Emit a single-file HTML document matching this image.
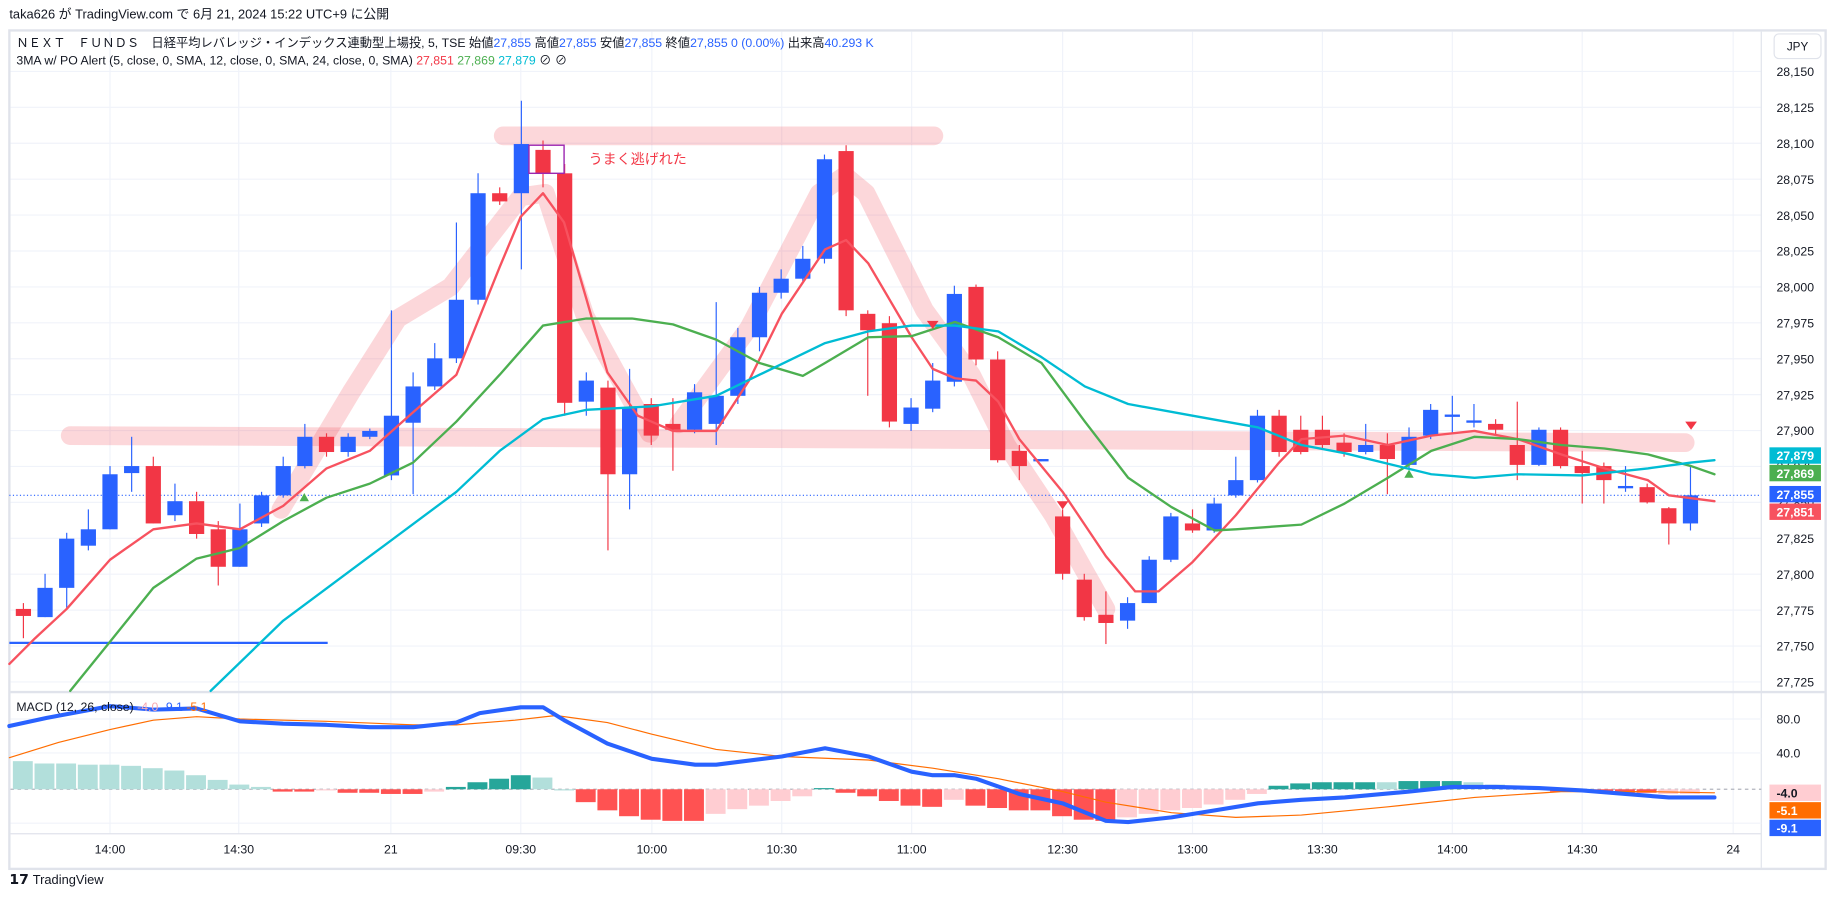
<!DOCTYPE html>
<html><head><meta charset="utf-8"><style>
html,body{margin:0;padding:0;background:#fff;width:1835px;height:897px;overflow:hidden}
svg{display:block}
text{font-family:"Liberation Sans","Noto Sans CJK JP",sans-serif}
</style></head><body>
<svg id="s" width="1835" height="897" viewBox="0 0 1568 766" preserveAspectRatio="none" xmlns="http://www.w3.org/2000/svg">
<rect width="1568" height="766" fill="#fff"/>
<text x="8" y="16" font-size="11" fill="#131722">taka626 が TradingView.com で 6月 21, 2024 15:22 UTC+9 に公開</text>
<rect x="8" y="26" width="1552" height="716" fill="#fff" stroke="#e0e3eb" stroke-width="2"/>
<g id="grid"></g>
<g id="hl"></g>
<g id="candles"></g>
<g id="ma"></g>
<g id="macd"></g>
<g id="lbl"></g>
<text x="14" y="40" font-size="10.5" fill="#131722">ＮＥＸＴ　ＦＵＮＤＳ　日経平均レバレッジ・インデックス連動型上場投, 5, TSE  始値<tspan fill="#2962ff">27,855</tspan> 高値<tspan fill="#2962ff">27,855</tspan> 安値<tspan fill="#2962ff">27,855</tspan> 終値<tspan fill="#2962ff">27,855  0 (0.00%)</tspan> 出来高<tspan fill="#2962ff">40.293 K</tspan></text>
<text x="14" y="55" font-size="10.5" fill="#131722">3MA w/ PO Alert (5, close, 0, SMA, 12, close, 0, SMA, 24, close, 0, SMA)  <tspan fill="#f23645">27,851</tspan>  <tspan fill="#4caf50">27,869</tspan>  <tspan fill="#00bcd4">27,879</tspan>  ⊘ ⊘</text>
<text x="14" y="607" font-size="10.5" fill="#131722">MACD (12, 26, close)  <tspan fill="#f7a9b0">-4.0</tspan>  <tspan fill="#2962ff">-9.1</tspan>  <tspan fill="#ff6d00">-5.1</tspan></text>
<text x="503" y="140" font-size="12" fill="#f23645">うまく逃げれた</text>
<rect x="1516" y="29" width="40" height="21" rx="4" fill="#fff" stroke="#e0e3eb"/>
<text x="1536" y="43" font-size="10" fill="#131722" text-anchor="middle">JPY</text>
<text x="8" y="755" font-size="12" font-weight="bold" fill="#131722">𝟭𝟳</text>
<text x="28" y="755" font-size="11" fill="#131722">TradingView</text>
</svg>
<script>
const NS="http://www.w3.org/2000/svg";
function el(p,t,a,txt){const e=document.createElementNS(NS,t);for(const k in a)e.setAttribute(k,a[k]);if(txt!==undefined)e.textContent=txt;document.getElementById(p).appendChild(e);return e;}
const Y=p=>61+(28150-p)*1.2267;
for(let p=28150;p>=27725;p-=25){const y=Y(p);el('grid','line',{x1:9,x2:1505,y1:y,y2:y,stroke:'#f0f3fa'});el('lbl','text',{x:1518,y:y+4,'font-size':10.5,fill:'#131722'},p.toLocaleString('en-US'));}
const xs=[[94,'14:00'],[204,'14:30'],[334,'21'],[445,'09:30'],[557,'10:00'],[668,'10:30'],[779,'11:00'],[908,'12:30'],[1019,'13:00'],[1130,'13:30'],[1241,'14:00'],[1352,'14:30'],[1481,'24']];
xs.forEach(([x,t])=>{el('grid','line',{x1:x,x2:x,y1:27,y2:712,stroke:'#f0f3fa'});el('lbl','text',{x:x,y:729,'font-size':10.5,fill:'#131722','text-anchor':'middle'},t);});
el('grid','line',{x1:1505,x2:1505,y1:27,y2:741,stroke:'#e0e3eb'});
el('grid','line',{x1:9,x2:1559,y1:591,y2:591,stroke:'#e0e3eb','stroke-width':2});
el('grid','line',{x1:9,x2:1505,y1:712,y2:712,stroke:'#e0e3eb'});
[614,643,703].forEach(y=>el('grid','line',{x1:9,x2:1505,y1:y,y2:y,stroke:'#f0f3fa'}));
el('grid','line',{x1:9,x2:1505,y1:674,y2:674,stroke:'#b2b5be','stroke-dasharray':'3,3'});
el('lbl','text',{x:1518,y:618,'font-size':10.5,fill:'#131722'},'80.0');
el('lbl','text',{x:1518,y:647,'font-size':10.5,fill:'#131722'},'40.0');
const pk='rgba(242,54,69,0.2)';
function pl(g,pts,c,w,extra){const a={points:pts.map(p=>p.join(',')).join(' '),fill:'none',stroke:c,'stroke-width':w,'stroke-linejoin':'round','stroke-linecap':'round'};Object.assign(a,extra||{});return el(g,'polyline',a);}
pl('hl',[[60,372],[1440,378]],pk,16);
pl('hl',[[430,116],[798,116]],pk,16);
pl('hl',[[240,435],[300,335],[340,272],[385,245],[445,168],[466,165],[500,270],[555,370]],pk,16);
pl('hl',[[580,362],[640,280],[700,165],[722,150],[740,165],[790,265],[830,320],[860,380],[900,440],[945,520]],pk,16);
el('hl','line',{x1:8,x2:280,y1:549,y2:549,stroke:'#2962ff','stroke-width':2});
el('hl','line',{x1:8,x2:1505,y1:423,y2:423,stroke:'#2962ff','stroke-dasharray':'1,2'});
const C=[[0,520,526,515,545],[1,502,527,490,527],[1,460,502,455,520],[1,452,466,435,470],[1,405,452,398,452],[1,398,404,373,420],[0,398,447,390,447],[1,428,440,413,445],[0,428,456,420,460],[0,452,484,445,500],[1,452,484,430,484],[1,423,447,420,450],[1,398,423,390,425],[1,373,398,362,400],[0,373,386,370,390],[1,373,386,370,390],[1,368,373,366,375],[1,355,406,265,410],[1,330,361,318,422],[1,306,330,293,333],[1,256,306,190,310],[1,165,256,148,260],[0,165,172,160,175],[1,123,165,86,230],[0,128,148,120,160],[0,148,344,140,355],[1,325,343,318,355],[0,331,405,325,470],[1,348,405,315,435],[0,345,372,340,380],[0,362,367,340,402],[1,335,367,328,370],[1,338,362,258,380],[1,288,338,280,345],[1,250,288,245,300],[1,238,250,230,255],[1,221,238,210,240],[1,136,221,132,225],[0,129,265,124,270],[0,268,282,265,338],[0,276,360,270,365],[1,348,362,340,368],[1,325,349,310,352],[1,251,326,244,330],[0,245,307,243,312],[0,307,393,300,395],[0,385,398,380,410],[1,392,394,392,394],[0,441,490,435,495],[0,495,527,490,530],[0,525,532,505,550],[1,515,530,510,537],[1,478,515,475,515],[1,441,478,438,480],[0,447,453,435,455],[1,430,453,425,455],[1,410,423,390,425],[1,355,410,350,412],[0,355,386,350,390],[0,367,386,355,388],[0,367,380,355,383],[0,378,386,370,390],[1,380,386,362,388],[0,380,392,370,422],[1,373,397,365,400],[1,350,372,345,375],[1,354,356,338,370],[1,359,361,345,365],[0,362,367,358,372],[0,380,397,343,410],[1,367,397,365,398],[0,367,398,365,400],[0,398,404,385,430],[0,398,410,395,430],[1,415,417,398,420],[0,416,429,413,430],[0,434,447,433,465],[1,423,447,398,453]];
C.forEach((c,i)=>{const x=20+18.5*i,col=c[0]?'#2962ff':'#f23645';
el('candles','line',{x1:x,x2:x,y1:c[3],y2:c[4],stroke:col,'stroke-width':1});
el('candles','rect',{x:x-6.5,y:c[1],width:13,height:Math.max(1,c[2]-c[1]),fill:col});});
el('candles','rect',{x:452,y:124,width:30,height:24,fill:'none',stroke:'#9c27b0','stroke-width':1.2});
pl('ma',[[8,567],[30,545],[57,520],[94,478],[131,452],[168,447],[205,452],[242,432],[279,400],[316,385],[353,352],[390,320],[427,228],[445,185],[464,165],[482,190],[501,255],[519,318],[545,355],[575,368],[612,368],[640,325],[668,268],[705,213],[723,205],[742,225],[779,288],[797,315],[816,323],[834,325],[853,343],[871,375],[908,420],[945,475],[970,505],[990,505],[1019,480],[1056,440],[1093,395],[1112,375],[1149,372],[1186,380],[1223,372],[1260,368],[1297,375],[1334,388],[1371,400],[1408,410],[1426,423],[1465,428]],'#f7525f',2);
pl('ma',[[60,590],[94,548],[131,502],[168,477],[205,468],[242,445],[279,425],[316,413],[353,395],[390,360],[427,320],[464,278],[501,272],[540,272],[575,277],[612,290],[649,310],[686,321],[705,310],[742,288],[779,287],[816,275],[853,288],[890,310],[927,360],[964,408],[1001,433],[1038,453],[1056,452],[1112,448],[1149,430],[1186,408],[1223,385],[1260,373],[1297,375],[1334,380],[1371,383],[1408,388],[1445,398],[1465,405]],'#4caf50',2);
pl('ma',[[180,590],[242,530],[316,475],[390,420],[427,385],[464,358],[501,350],[557,347],[612,338],[649,320],[705,293],[742,283],[779,278],[816,278],[853,283],[890,305],[927,330],[964,345],[1019,355],[1075,365],[1112,380],[1149,387],[1223,405],[1260,408],[1297,405],[1352,406],[1408,400],[1445,395],[1465,393]],'#00bcd4',2);
[[797,278],[908,432],[1445,364]].forEach(([x,y])=>el('ma','polygon',{points:`${x-5},${y-4} ${x+5},${y-4} ${x},${y+3}`,fill:'#f23645'}));
[[1204,405],[260,425]].forEach(([x,y])=>el('ma','polygon',{points:`${x-4},${y+3} ${x+4},${y+3} ${x},${y-4}`,fill:'#4caf50'}));
const LT='#b2dfdb',DT='#26a69a',R='#ff5252',P='#ffcdd2';
const H=[[650,LT],[652,LT],[652,LT],[653,LT],[653,LT],[654,LT],[656,LT],[658,LT],[662,LT],[666,LT],[670,LT],[672,LT],[676,R],[676,R],[675,P],[677,R],[677,R],[678,R],[678,R],[676,P],[672,DT],[668,DT],[665,DT],[662,DT],[664,LT],[675,LT],[685,R],[692,R],[697,R],[700,R],[701,R],[701,R],[695,P],[691,P],[688,P],[684,P],[680,P],[673,DT],[677,R],[680,R],[684,R],[688,R],[689,R],[683,P],[688,R],[690,R],[692,R],[692,R],[697,R],[700,R],[701,R],[698,P],[695,P],[692,P],[690,P],[687,P],[683,P],[678,P],[671,DT],[669,DT],[668,DT],[668,DT],[668,DT],[668,LT],[667,DT],[667,DT],[667,DT],[668,LT],[670,LT],[672,LT],[673,LT],[676,R],[676,R],[677,R],[677,R],[677,R],[678,P],[678,P]];
H.forEach((h,i)=>{const x=20+18.5*i-9;const y0=Math.min(674,h[0]),y1=Math.max(674,h[0]);el('macd','rect',{x:x,y:y0,width:17,height:Math.max(1,y1-y0),fill:h[1]});});
pl('macd',[[8,647],[50,634],[94,623],[131,615],[168,612],[205,614],[279,616],[353,619],[390,619],[440,615],[475,611],[519,617],[557,627],[612,640],[668,646],[742,649],[797,656],[853,665],[908,676],[945,685],[1001,694],[1056,698],[1112,696],[1186,689],[1260,681],[1334,676],[1408,676],[1465,677]],'#ff6d00',1);
pl('macd',[[8,620],[40,613],[94,603],[131,606],[168,605],[205,616],[242,618],[279,619],[316,621],[353,621],[390,617],[410,609],[445,604],[464,604],[482,615],[519,635],[557,648],[594,653],[612,653],[668,646],[705,639],[742,646],[779,659],[797,662],[816,662],[834,665],[871,678],[908,686],[945,701],[964,702],[1001,698],[1038,692],[1075,686],[1112,683],[1149,681],[1204,676],[1241,672],[1278,672],[1315,673],[1352,675],[1389,678],[1426,681],[1465,681]],'#2962ff',3.5);
[[389,'#00bcd4','27,879'],[404,'#4caf50','27,869'],[422,'#2962ff','27,855'],[437,'#f7525f','27,851'],[677,'#ffcdd2','-4.0'],[692,'#ff6d00','-5.1'],[707,'#2962ff','-9.1']].forEach(([y,c,t])=>{
el('lbl','rect',{x:1512,y:y-7,width:44,height:14,fill:c});
el('lbl','text',{x:1518,y:y+4,'font-size':10.5,'font-weight':'bold',fill:c=='#ffcdd2'?'#131722':'#fff'},t);});
</script>
</body></html>
